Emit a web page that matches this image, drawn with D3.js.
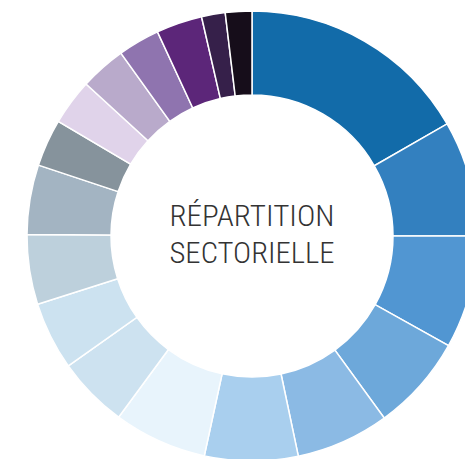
<!DOCTYPE html>
<html>
<head>
<meta charset="utf-8">
<script src="https://cdn.jsdelivr.net/npm/d3@7"></script>
<style>
    html, body { margin: 0; padding: 0; background: #fff; overflow: hidden; }
    .center-label { font-family: "Roboto Condensed", "Liberation Sans Narrow", Roboto, sans-serif; font-weight: 300; fill: #333; }
</style>
</head>
<body>
<div id="chart"></div>
<script>

// sectors, clockwise from 12 o'clock
var sectors = ['Secteur 1', 'Secteur 2', 'Secteur 3', 'Secteur 4', 'Secteur 5', 'Secteur 6',
    'Secteur 7', 'Secteur 8', 'Secteur 9', 'Secteur 10', 'Secteur 11', 'Secteur 12',
    'Secteur 13', 'Secteur 14', 'Secteur 15', 'Secteur 16', 'Secteur 17', 'Secteur 18'];
var weights = [16.7, 8.3, 8.1, 6.9, 6.7, 6.7, 6.7, 5.1, 4.9, 5.0, 5.0, 3.4, 3.3, 3.3, 3.0, 3.3, 1.7, 1.9];
var colors = ['#126ba9', '#3380bf', '#5196d2', '#6da8da', '#8bbae4', '#a9cfee',
    '#e8f4fc', '#cde2f0', '#cce2f0', '#bdd0dc', '#a3b4c2', '#86939c',
    '#e0d3ea', '#b9aacb', '#8f74af', '#5c2679', '#36204a', '#160d1a'];
var titleLines = ['RÉPARTITION', 'SECTORIELLE'];

var width = 465,
    height = 459,
    cx = 252,
    cy = 236,
    outerR = 225,
    innerR = 141;

var svg = d3.select('#chart').append('svg')
    .attr('width', width)
    .attr('height', height);

var g = svg.append('g')
    .attr('transform', 'translate(' + cx + ',' + cy + ')');

var data = sectors.map(function (s, i) { return { name: s, value: weights[i] }; });

var color = d3.scaleOrdinal().domain(sectors).range(colors);

var pie = d3.pie()
    .sort(null)
    .value(function (d) { return d.value; });

var arc = d3.arc()
    .innerRadius(innerR)
    .outerRadius(outerR);

g.selectAll('path')
    .data(pie(data))
    .enter()
    .append('path')
    .attr('d', arc)
    .attr('fill', function (d) { return color(d.data.name); })
    .attr('stroke', '#fff')
    .attr('stroke-width', 1.5);

// centre title
g.selectAll('text.center-label')
    .data(titleLines)
    .enter()
    .append('text')
    .attr('class', 'center-label')
    .attr('x', 0)
    .attr('y', function (d, i) { return -10 + i * 37; })
    .attr('text-anchor', 'middle')
    .attr('font-size', 30)
    .attr('textLength', 165)
    .attr('lengthAdjust', 'spacingAndGlyphs')
    .text(function (d) { return d; });

</script>
</body>
</html>
